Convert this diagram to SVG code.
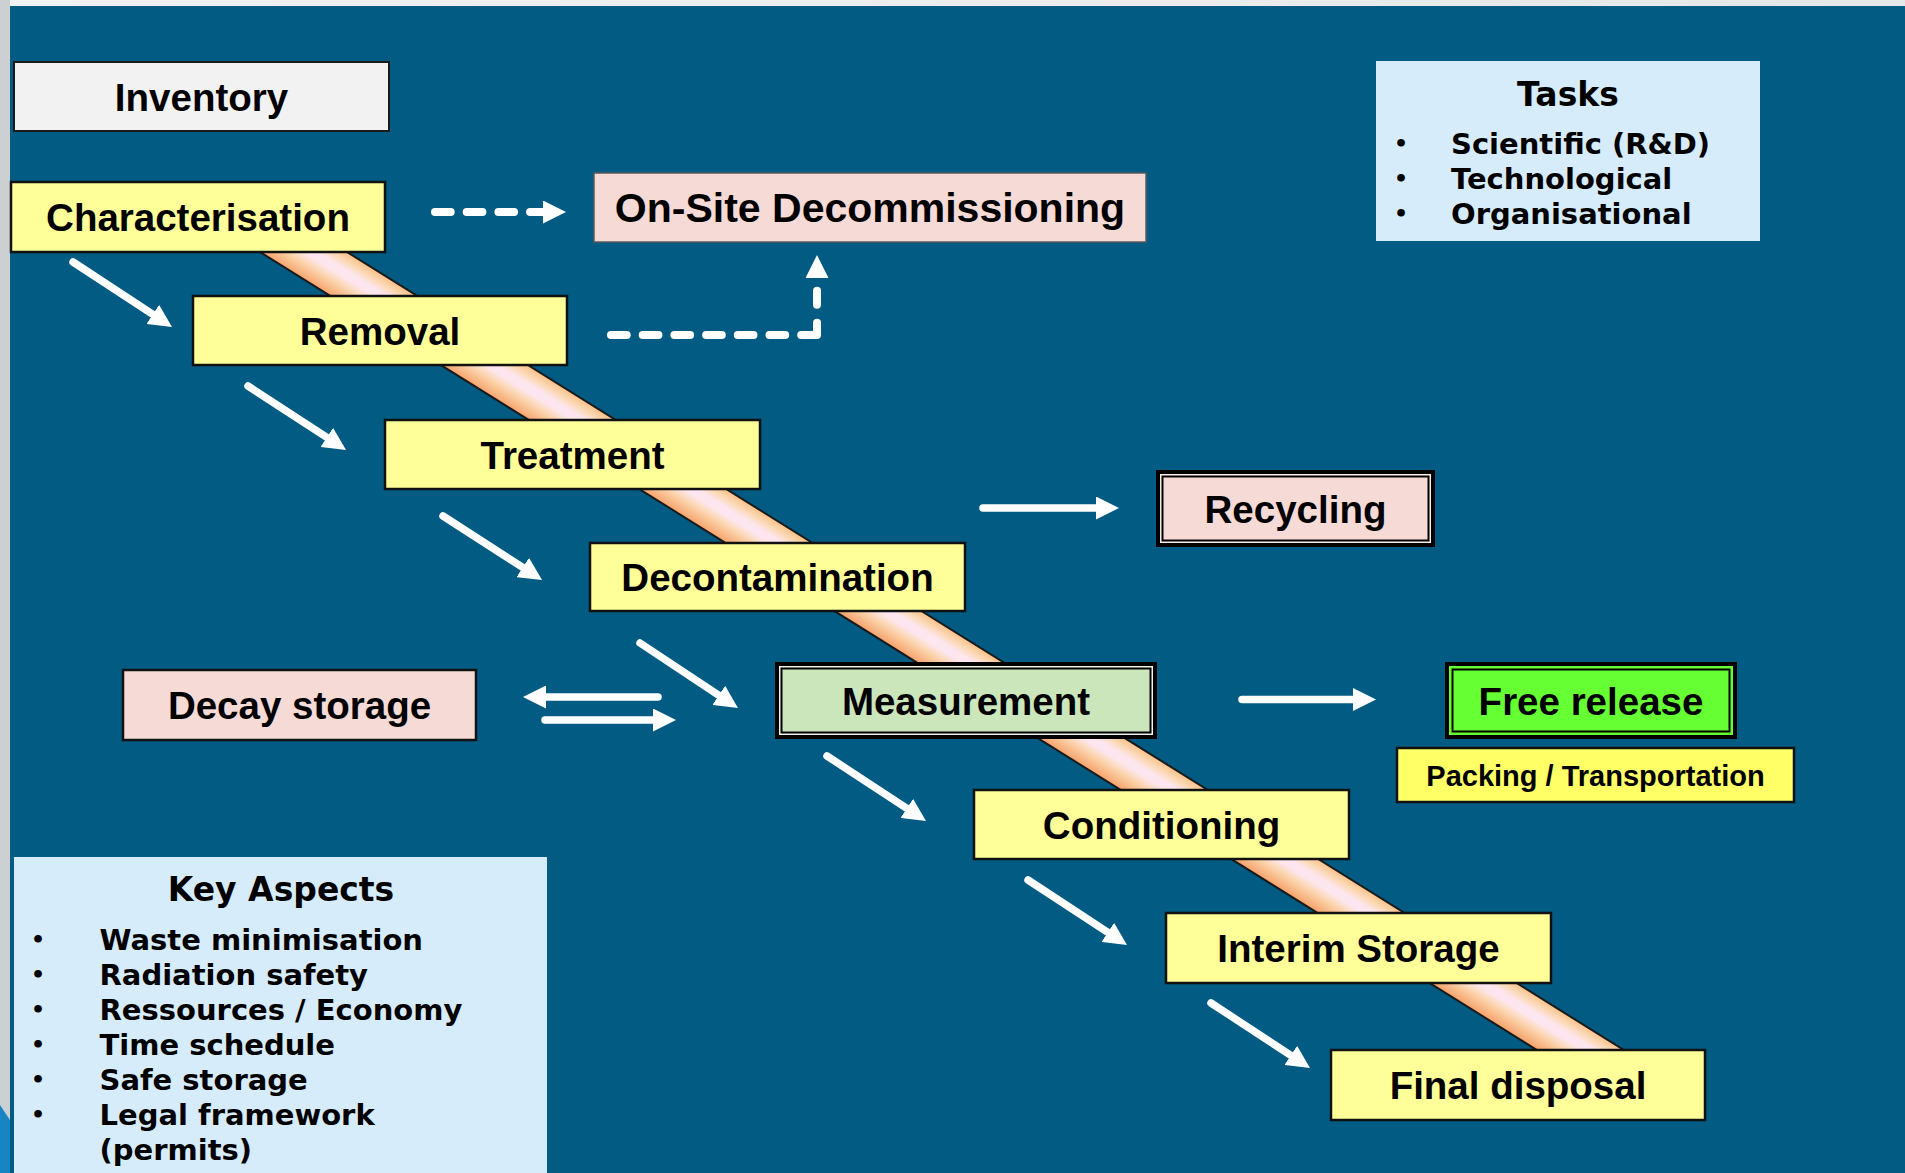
<svg xmlns="http://www.w3.org/2000/svg" width="1905" height="1173" viewBox="0 0 1905 1173">
<style>
.box{stroke:#111;stroke-width:2.5}
.yel{fill:#FFFF99}
.pink{fill:#F6DAD6}
.lbl{font-family:"Liberation Sans",Arial,sans-serif;font-weight:bold;font-size:38.5px;fill:#000;text-anchor:middle}
.ptxt{font-family:"DejaVu Sans",Verdana,sans-serif;font-weight:bold;fill:#000}
.ptitle{font-size:33px;text-anchor:middle}
.pitem{font-size:29px}
.bul{font-size:22px;text-anchor:middle}
.arr{fill:none;stroke:#fff;stroke-width:7.5;stroke-linecap:round;marker-end:url(#head)}
.dash{fill:none;stroke:#fff;stroke-width:8;stroke-linecap:round;stroke-linejoin:round;marker-end:url(#head)}
</style>
<defs>
<marker id="head" markerUnits="userSpaceOnUse" markerWidth="23" markerHeight="23" viewBox="0 0 23 23" refX="6" refY="11.5" orient="auto">
<path d="M0,0 L23,11.5 L0,23 z" fill="#fff"/>
</marker>
<linearGradient id="band" gradientUnits="userSpaceOnUse" x1="260" y1="252" x2="284.4" y2="212.9">
<stop offset="0" stop-color="#F5A46E"/>
<stop offset="0.12" stop-color="#F8B685"/>
<stop offset="0.25" stop-color="#FACB9F"/>
<stop offset="0.38" stop-color="#FCDCC4"/>
<stop offset="0.5" stop-color="#FDE6EE"/>
<stop offset="0.65" stop-color="#FDE6F0"/>
<stop offset="0.78" stop-color="#FCDCC0"/>
<stop offset="0.9" stop-color="#FACD9E"/>
<stop offset="1" stop-color="#F8BE86"/>
</linearGradient>
<linearGradient id="frame" x1="0" y1="0" x2="1" y2="0">
<stop offset="0" stop-color="#F2F2F2"/>
<stop offset="1" stop-color="#E6E7E8"/>
</linearGradient>
</defs>

<rect x="0" y="0" width="1905" height="1173" fill="url(#frame)"/>
<rect x="0" y="0" width="10" height="1173" fill="#CDD0D3"/>
<polygon points="0,1105 10,1120 10,1173 0,1173" fill="#1884C4"/>
<rect x="10" y="6" width="1895" height="1167" fill="#025B83"/>

<g id="band-ribbon">
<polygon points="216.8,225 303.8,225 1679.8,1085 1592.8,1085" fill="url(#band)" stroke="#1a1a1a" stroke-width="2"/>
</g>

<g id="connectors">
<path class="arr" d="M73,262 L157.8,317.7"/>
<path class="arr" d="M248,386 L331.8,440.7"/>
<path class="arr" d="M443,516 L527.8,570.7"/>
<path class="arr" d="M640,643 L723.8,698.7"/>
<path class="arr" d="M827,756 L911.8,811.7"/>
<path class="arr" d="M1028,880 L1112.8,935.7"/>
<path class="arr" d="M1211,1003 L1295.8,1058.7"/>
<path class="arr" d="M983,508 L1102,508"/>
<path class="arr" d="M1242,699.5 L1359,699.5"/>
<path class="arr" d="M658,697 L540,697"/>
<path class="arr" d="M545,720 L659,720"/>
<path class="dash" stroke-dasharray="15.7 16" d="M435,212 L549,212"/>
<path class="dash" stroke-dasharray="15.7 16 15.7 16 15.7 16 15.7 16 15.7 16 15.7 16 28 18 14 100" d="M611,335 L817,335 L817,272"/>
</g>

<g id="inventory">
<rect x="14" y="62" width="375" height="69" fill="#F2F2F2" stroke="#1a1a1a" stroke-width="2"/>
<text class="lbl" x="201.5" y="110.5">Inventory</text>
</g>
<g id="characterisation">
<rect class="box yel" x="11" y="182" width="374" height="70"/>
<text class="lbl" x="198" y="231">Characterisation</text>
</g>
<g id="removal">
<rect class="box yel" x="193" y="296" width="374" height="69"/>
<text class="lbl" x="380" y="344.5">Removal</text>
</g>
<g id="treatment">
<rect class="box yel" x="385" y="420" width="375" height="69"/>
<text class="lbl" x="572.5" y="468.5">Treatment</text>
</g>
<g id="decontamination">
<rect class="box yel" x="590" y="543" width="375" height="68"/>
<text class="lbl" x="777.5" y="591">Decontamination</text>
</g>
<g id="measurement">
<rect x="777" y="664" width="378" height="73" fill="#CCE6BC" stroke="#000" stroke-width="4"/>
<rect x="779.75" y="666.75" width="372.5" height="67.5" fill="none" stroke="#EEF7EA" stroke-width="1.5"/>
<rect x="781.5" y="668.5" width="369" height="64" fill="none" stroke="#000" stroke-width="2"/>
<text class="lbl" x="966" y="714.5">Measurement</text>
</g>
<g id="conditioning">
<rect class="box yel" x="974" y="790" width="375" height="69"/>
<text class="lbl" x="1161.5" y="838.5">Conditioning</text>
</g>
<g id="interim-storage">
<rect class="box yel" x="1166" y="913" width="385" height="70"/>
<text class="lbl" x="1358.5" y="962">Interim Storage</text>
</g>
<g id="final-disposal">
<rect class="box yel" x="1331" y="1050" width="374" height="70"/>
<text class="lbl" x="1518" y="1099">Final disposal</text>
</g>
<g id="on-site-decommissioning">
<rect class="pink" x="594" y="173" width="552" height="69" stroke="#5a5a5a" stroke-width="1.5"/>
<text class="lbl" x="870" y="222" style="font-size:41px">On-Site Decommissioning</text>
</g>
<g id="decay-storage">
<rect class="box pink" x="123" y="670" width="353" height="70"/>
<text class="lbl" x="299.5" y="719">Decay storage</text>
</g>
<g id="recycling">
<rect x="1158" y="472" width="275" height="73" fill="#F6DAD6" stroke="#000" stroke-width="4"/>
<rect x="1160.75" y="474.75" width="269.5" height="67.5" fill="none" stroke="#FBEFEE" stroke-width="1.5"/>
<rect x="1162.5" y="476.5" width="266" height="64" fill="none" stroke="#000" stroke-width="2"/>
<text class="lbl" x="1295.5" y="522.5">Recycling</text>
</g>
<g id="free-release">
<rect x="1447" y="664" width="288" height="73" fill="#66FF33" stroke="#000" stroke-width="4"/>
<rect x="1452.5" y="669.5" width="277" height="62" fill="none" stroke="#000" stroke-width="2"/>
<text class="lbl" x="1591" y="714.5">Free release</text>
</g>
<g id="packing-transportation">
<rect x="1397" y="748" width="397" height="54" fill="#FFFF66" stroke="#111" stroke-width="2.5"/>
<text class="lbl" x="1595.5" y="785.5" style="font-size:29px">Packing / Transportation</text>
</g>
<g id="tasks">
<rect x="1376" y="61" width="384" height="180" fill="#D6ECFA"/>
<text class="ptxt ptitle" x="1568" y="106">Tasks</text>
<text class="ptxt bul" x="1401" y="151">•</text>
<text class="ptxt bul" x="1401" y="186">•</text>
<text class="ptxt bul" x="1401" y="221">•</text>
<text class="ptxt pitem" x="1451" y="154">Scientific (R&amp;D)</text>
<text class="ptxt pitem" x="1451" y="189">Technological</text>
<text class="ptxt pitem" x="1451" y="224">Organisational</text>
</g>
<g id="key-aspects">
<rect x="14" y="857" width="533" height="316" fill="#D6ECFA"/>
<text class="ptxt ptitle" x="281" y="901">Key Aspects</text>
<text class="ptxt bul" x="38" y="947">•</text>
<text class="ptxt bul" x="38" y="982">•</text>
<text class="ptxt bul" x="38" y="1017">•</text>
<text class="ptxt bul" x="38" y="1052">•</text>
<text class="ptxt bul" x="38" y="1087">•</text>
<text class="ptxt bul" x="38" y="1122">•</text>
<text class="ptxt pitem" x="99.5" y="950">Waste minimisation</text>
<text class="ptxt pitem" x="99.5" y="985">Radiation safety</text>
<text class="ptxt pitem" x="99.5" y="1020">Ressources / Economy</text>
<text class="ptxt pitem" x="99.5" y="1055">Time schedule</text>
<text class="ptxt pitem" x="99.5" y="1090">Safe storage</text>
<text class="ptxt pitem" x="99.5" y="1125">Legal framework</text>
<text class="ptxt pitem" x="99.5" y="1160">(permits)</text>
</g>
</svg>
